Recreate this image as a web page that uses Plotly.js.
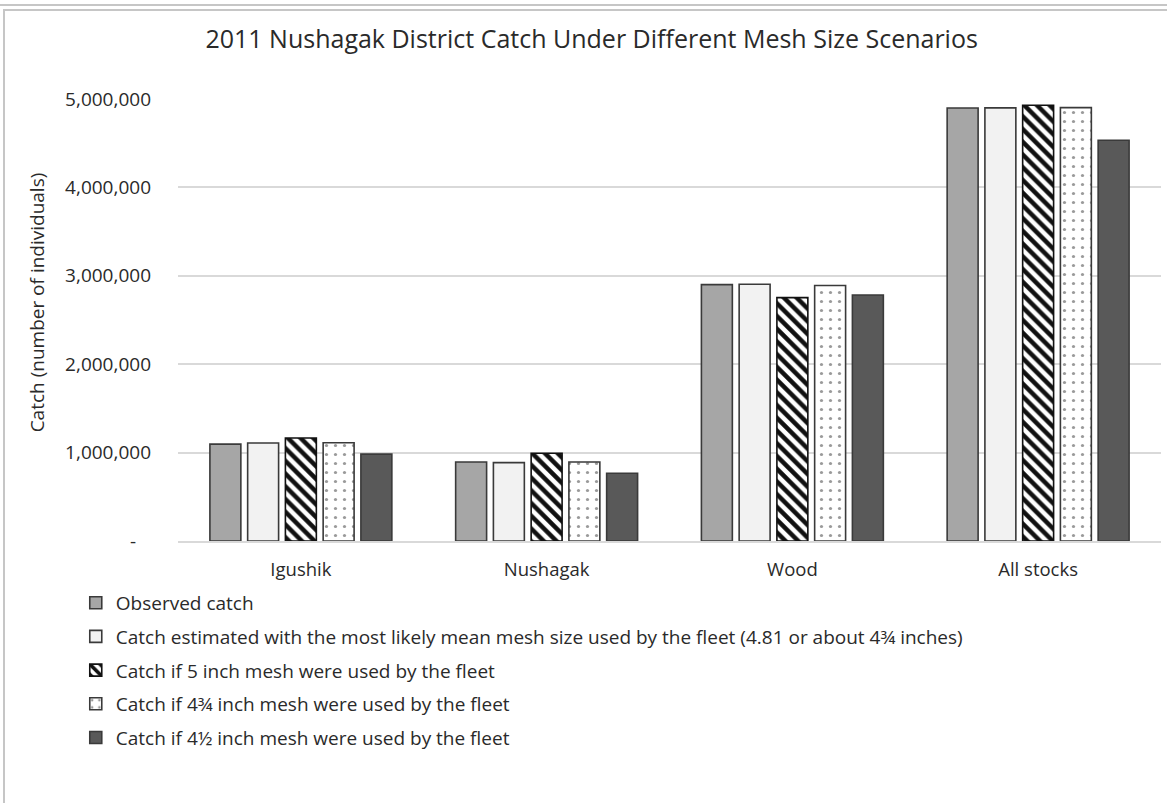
<!DOCTYPE html>
<html>
<head>
<meta charset="utf-8">
<script src="https://cdn.plot.ly/plotly-3.0.1.min.js"></script>
<style>
  html, body { margin: 0; padding: 0; background: #fff; }
  #chart { position: absolute; left: 0; top: 0; width: 1167px; height: 803px; }
  .frame { position: absolute; background: #c6c6c6; pointer-events: none; }
</style>
</head>
<body>
<div id="chart"></div>
<div class="frame" style="left:0; top:4px; width:1167px; height:2px;"></div>
<div class="frame" style="left:4px; top:9px; width:1163px; height:2px;"></div>
<div class="frame" style="left:3px; top:9px; width:2px; height:794px;"></div>
<script>
// Stocks (x categories)
const categories = ['Igushik', 'Nushagak', 'Wood', 'All stocks'];

// Catch by scenario (number of fish)
const observedCatch = [1096000, 894000, 2900000, 4898000];
const mostLikelyMesh = [1108000, 887000, 2904000, 4900000];
const mesh5inch = [1165000, 992000, 2753000, 4930000];
const mesh4_75inch = [1111000, 894000, 2890000, 4902000];
const mesh4_5inch = [983000, 766000, 2783000, 4533000];

// Series labels
const seriesNames = [
  'Observed catch',
  'Catch estimated with the most likely mean mesh size used by the fleet (4.81 or about 4\u00be inches)',
  'Catch if 5 inch mesh were used by the fleet',
  'Catch if 4\u00be inch mesh were used by the fleet',
  'Catch if 4\u00bd inch mesh were used by the fleet'
];

// Y axis ticks
const yTickVals = [0, 1000000, 2000000, 3000000, 4000000, 5000000];
const yTickText = ['-\u00a0\u00a0\u00a0', '1,000,000', '2,000,000', '3,000,000', '4,000,000', '5,000,000'];

const FONT = '"Open Sans", "Noto Sans", sans-serif';
const TEXT = '#2a2a2a';
const EDGE = '#3a3a3a';

function barTrace(values, name, idx, marker) {
  return {
    type: 'bar',
    x: categories,
    y: values,
    name: name,
    legendgroup: 'g' + idx,
    marker: Object.assign({ line: { color: EDGE, width: 1.6 } }, marker),
    hoverinfo: 'x+y+name'
  };
}

const data = [
  barTrace(observedCatch, seriesNames[0], 0, { color: '#a6a6a6' }),
  barTrace(mostLikelyMesh, seriesNames[1], 1, { color: '#f2f2f2' }),
  barTrace(mesh5inch, seriesNames[2], 2, {
    color: '#ffffff',
    line: { color: '#111111', width: 1.6 },
    pattern: { shape: '\\', fgcolor: '#111111', bgcolor: '#ffffff', size: 9, solidity: 0.5 }
  }),
  barTrace(mesh4_75inch, seriesNames[3], 3, {
    color: '#ffffff',
    pattern: { shape: '.', fgcolor: '#9a9a9a', bgcolor: '#ffffff', size: 9, solidity: 0.1 }
  }),
  barTrace(mesh4_5inch, seriesNames[4], 4, { color: '#595959' })
];

const layout = {
  width: 1167,
  height: 803,
  paper_bgcolor: '#ffffff',
  plot_bgcolor: '#ffffff',
  font: { family: FONT, color: TEXT, size: 19 },
  margin: { l: 178, r: 6, t: 99, b: 262 },
  title: {
    text: '2011 Nushagak District Catch Under Different Mesh Size Scenarios',
    font: { family: FONT, size: 25, color: TEXT },
    xref: 'container', x: 0.507, xanchor: 'center',
    yref: 'container', y: 0.951, yanchor: 'middle'
  },
  barmode: 'group',
  bargap: 0.232,
  bargroupgap: 0.18,
  xaxis: {
    type: 'category',
    showgrid: false,
    showline: true,
    linecolor: '#d9d9d9',
    linewidth: 2,
    ticks: '',
    ticklabelstandoff: 11,
    tickfont: { family: FONT, size: 18.5, color: TEXT },
    zeroline: false
  },
  yaxis: {
    range: [0, 5000000],
    tickmode: 'array',
    tickvals: yTickVals,
    ticktext: yTickText,
    showgrid: true,
    gridcolor: '#d9d9d9',
    gridwidth: 2,
    zeroline: false,
    showline: false,
    ticks: '',
    ticklabelstandoff: 26,
    tickfont: { family: FONT, size: 19, color: TEXT }
  },
  annotations: [{
    text: 'Catch (number of individuals)',
    textangle: -90,
    xref: 'paper', yref: 'paper',
    x: -0.1434, y: 0.54,
    xanchor: 'center', yanchor: 'middle',
    showarrow: false,
    font: { family: FONT, size: 19, color: TEXT }
  }],
  showlegend: true,
  legend: {
    orientation: 'v',
    x: -0.104, xanchor: 'left',
    y: -0.097, yanchor: 'top',
    traceorder: 'grouped',
    tracegroupgap: 6,
    font: { family: FONT, size: 19, color: TEXT },
    bgcolor: 'rgba(0,0,0,0)'
  }
};

Plotly.newPlot('chart', data, layout, { displayModeBar: false, staticPlot: true });
</script>
</body>
</html>
